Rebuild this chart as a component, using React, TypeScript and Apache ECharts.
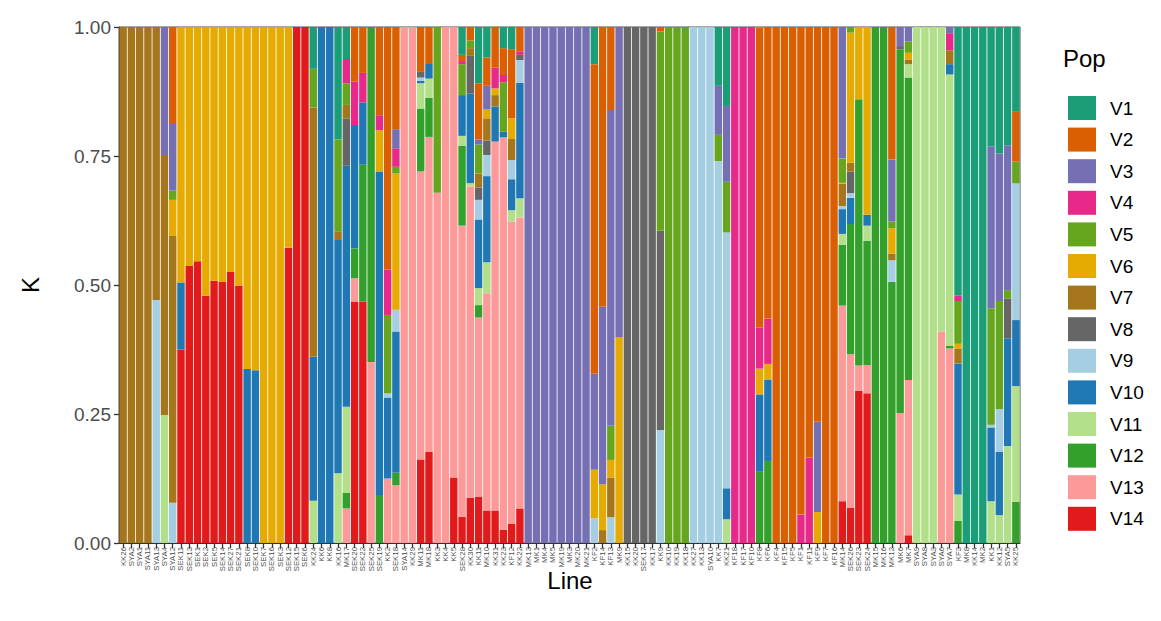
import React, { useEffect, useRef } from "react";
import * as echarts from "echarts";

const lines = ["KK26","SYA2","SYA1","SYA11","SYA13","SYA4","SYA12","SEK11","SEK13","SEK1",
"SEK2","SEK5","SEK14","SEK27","SEK21","SEK8","SEK10","SEK7","SEK16","SEK3",
"SEK12","SEK15","SEK6","KK24","KK6","KK8","KK16","MK17","SEK20","SEK22",
"SEK25","SEK19","KK2","SEK18","SYA14","KK29","MK11","MK18","KK3","KK4",
"KK5","SEK28","KK30","KK11","MK10","KK31","KK23","KF12","KK22","MK13",
"MK1","MK4","MK5","MK19","MK3","MK20","MK21","KF2","KF14","KF13",
"MK9","KK15","KK20","SEK17","KK17","KK9","KK10","KK19","KK18","KK27",
"KK13","SYA10","KK7","KK21","KF18","KF17","KF10","KF8","KF6","KF4",
"KF15","KF5","KF1","KF11","KF9","KF7","KF16","MK14","SEK26","SEK23",
"SEK24","MK15","MK16","MK12","MK6","MK7","SYA9","SYA8","SYA3","SYA6",
"SYA7","KF3","MK8","KK14","MK2","KK1","KK12","SYA5","KK25"];

const pops = ["V1","V2","V3","V4","V5","V6","V7","V8","V9","V10","V11","V12","V13","V14"];
const popColors = ["#1B9E77","#D95F02","#7570B3","#E7298A","#66A61E","#E6AB02","#A6761D","#666666","#A6CEE3","#1F78B4","#B2DF8A","#33A02C","#FB9A99","#E31A1C"];
const yTicks = [0, 0.25, 0.5, 0.75, 1];

// [bar number (1-based), proportion]
const V1: [number, number][] = [[24,.081],[27,.218],[28,.062],[42,.054],[44,.109],[45,.059],[47,.041],[48,.043],[58,.072],[73,.114],[74,.153],[102,.521],[103,1],[104,1],[105,1],[106,.231],[107,.245],[108,.229],[109,.163]];
const V2: [number, number][] = [[7,.188],[29,.106],[30,.089],[32,.171],[33,.47],[34,.198],[37,.087],[38,.07],[42,.012],[43,.026],[44,.109],[45,.055],[46,.079],[47,.052],[48,.134],[49,.047],[58,.6],[59,.542],[60,.161],[66,.008],[78,.581],[79,.565],[80,1],[81,1],[82,1],[83,.945],[84,.835],[85,.765],[86,1],[87,1],[94,.257],[109,.098]];
const V3: [number, number][] = [[6,.248],[7,.129],[34,.037],[44,.01],[45,.046],[50,1],[51,1],[52,1],[53,1],[54,1],[55,1],[56,1],[57,1],[58,.186],[59,.344],[60,.612],[61,.601],[73,.095],[74,.147],[85,.175],[88,.255],[94,.12],[95,.037],[96,.028],[101,.012],[106,.314],[107,.286],[108,.281]];
const V4: [number, number][] = [[28,.047],[29,.084],[30,.057],[32,.029],[33,.088],[34,.036],[42,.006],[46,.04],[47,.014],[49,.007],[75,1],[76,1],[77,1],[78,.08],[79,.088],[83,.055],[84,.165],[101,.033],[102,.01]];
const V5: [number, number][] = [[7,.018],[24,.075],[27,.179],[28,.042],[33,.152],[34,.013],[39,.321],[42,.06],[43,.015],[44,.056],[47,.096],[60,.066],[66,.387],[67,1],[68,1],[69,1],[73,.051],[74,.098],[88,.047],[89,.011],[94,.013],[96,.022],[102,.083],[106,.226],[107,.21],[108,.016],[109,.042]];
const V6: [number, number][] = [[7,.07],[8,.495],[9,.463],[10,.454],[11,.521],[12,.492],[13,.494],[14,.475],[15,.501],[16,.663],[17,.665],[18,1],[19,1],[20,1],[21,.428],[32,.08],[34,.264],[45,.017],[46,.013],[48,.04],[58,.094],[59,.089],[60,.034],[61,.399],[78,.05],[79,.03],[85,.06],[88,.002],[89,.252],[90,.14],[91,.364],[94,.049],[96,.013],[102,.009]];
const V7: [number, number][] = [[1,1],[2,1],[3,1],[4,1],[5,.529],[6,.504],[7,.517],[24,.483],[27,.016],[28,.026],[43,.015],[44,.027],[45,.043],[46,.022],[48,.041],[59,.025],[60,.077],[88,.043],[89,.017],[94,.013],[96,.009],[101,.027],[102,.029]];
const V8: [number, number][] = [[28,.092],[37,.011],[43,.073],[44,.024],[45,.028],[49,.01],[62,1],[63,1],[64,1],[65,1],[66,.386],[89,.042],[95,.006],[108,.077]];
const V9: [number, number][] = [[5,.471],[7,.078],[33,.008],[34,.042],[37,.006],[44,.038],[45,.041],[48,.037],[49,.044],[58,.048],[60,.05],[66,.219],[70,1],[71,1],[72,1],[73,.74],[74,.496],[88,.006],[89,.009],[94,.042],[106,.005],[107,.082],[109,.265]];
const V10: [number, number][] = [[8,.13],[16,.337],[17,.335],[24,.279],[25,1],[26,1],[27,.452],[28,.467],[29,.239],[30,.121],[32,.627],[33,.157],[34,.274],[37,.005],[38,.03],[42,.079],[43,.174],[44,.133],[45,.167],[46,.068],[47,.011],[48,.06],[49,.224],[74,.06],[78,.15],[79,.158],[88,.048],[89,.051],[91,.021],[101,.02],[102,.254],[106,.143],[107,.123],[108,.209],[109,.128]];
const V11: [number, number][] = [[6,.248],[24,.082],[27,.135],[28,.167],[37,.049],[38,.037],[42,.019],[43,.006],[44,.033],[45,.06],[48,.022],[49,.037],[74,.046],[88,.021],[91,.029],[96,.026],[97,1],[98,1],[99,1],[100,.59],[101,.526],[102,.051],[106,.081],[107,.054],[108,.188],[109,.224]];
const V12: [number, number][] = [[28,.03],[29,.058],[30,.265],[31,.649],[32,.093],[34,.024],[37,.122],[38,.076],[42,.155],[44,.024],[78,.138],[79,.159],[88,.118],[89,.252],[90,.516],[91,.241],[92,1],[93,1],[94,.506],[95,.705],[96,.586],[101,.005],[102,.043],[109,.08]];
const V13: [number, number][] = [[28,.067],[29,.045],[31,.351],[33,.125],[34,.112],[35,1],[36,1],[37,.558],[38,.61],[39,.679],[40,1],[41,.873],[42,.564],[43,.603],[44,.347],[45,.421],[46,.715],[47,.76],[48,.586],[49,.564],[88,.379],[89,.298],[90,.049],[91,.055],[95,.252],[96,.301],[100,.41],[101,.377]];
const V14: [number, number][] = [[8,.375],[9,.537],[10,.546],[11,.479],[12,.508],[13,.506],[14,.525],[15,.499],[21,.572],[22,1],[23,1],[29,.468],[30,.468],[37,.162],[38,.177],[41,.127],[42,.051],[43,.088],[44,.09],[45,.063],[46,.063],[47,.026],[48,.037],[49,.067],[88,.081],[89,.068],[90,.295],[91,.29],[96,.015]];

const popValues = [V1, V2, V3, V4, V5, V6, V7, V8, V9, V10, V11, V12, V13, V14];

const FONT = "Liberation Sans, Arial, sans-serif";

export default function App() {
  const ref = useRef<HTMLDivElement>(null);
  useEffect(() => {
    if (!ref.current) return;
    const chart = echarts.init(ref.current, null, { renderer: "svg" });
    const dense = (pairs: [number, number][]) => {
      const a = new Array(lines.length).fill(0);
      pairs.forEach(([i, v]) => { a[i - 1] = v; });
      return a;
    };
    const series: any[] = [];
    for (let k = pops.length - 1; k >= 0; k--) {
      series.push({
        name: pops[k],
        type: "bar",
        stack: "K",
        data: dense(popValues[k]),
        itemStyle: { color: popColors[k] },
        barCategoryGap: "10%",
        emphasis: { disabled: true },
      });
    }
    chart.setOption({
      animation: false,
      backgroundColor: "#ffffff",
      textStyle: { fontFamily: FONT },
      grid: { left: 119, right: 141, top: 27, bottom: 78, show: true, borderColor: "#4d4d4d", borderWidth: 1, backgroundColor: "transparent" },
      xAxis: {
        type: "category",
        data: lines,
        axisLine: { show: true, lineStyle: { color: "#333333", width: 1 } },
        axisTick: { show: true, alignWithLabel: true, interval: 0, length: 5, lineStyle: { color: "#333333", width: 1.3 } },
        axisLabel: { interval: 0, rotate: 90, fontSize: 7.8, color: "#4D4D4D", margin: 4, fontFamily: FONT },
        splitLine: { show: false },
      },
      yAxis: {
        type: "value",
        min: 0,
        max: 1,
        interval: 0.25,
        axisLine: { show: true, lineStyle: { color: "#333333", width: 1 } },
        axisTick: { show: true, length: 5, lineStyle: { color: "#333333", width: 1.3 } },
        axisLabel: { fontSize: 19, color: "#4D4D4D", margin: 8, fontFamily: FONT, formatter: (v: number) => (yTicks.includes(v) ? v.toFixed(2) : "") },
        splitLine: { show: false },
      },
      legend: {
        data: pops,
        orient: "vertical",
        left: 1063,
        top: 91,
        itemWidth: 28,
        itemHeight: 24,
        itemGap: 7.6,
        icon: "rect",
        textStyle: { fontSize: 19, color: "#000000", fontFamily: FONT, padding: [0, 0, 0, 9] },
        selectedMode: false,
      },
      graphic: [
        { type: "text", left: 1063, top: 46, style: { text: "Pop", fontSize: 24, fill: "#000000", fontFamily: FONT } },
        { type: "text", x: 570, y: 580, style: { text: "Line", fontSize: 24, fill: "#000000", fontFamily: FONT, textAlign: "center", textVerticalAlign: "middle" } },
        { type: "text", x: 30, y: 285, rotation: Math.PI / 2, style: { text: "K", fontSize: 24, fill: "#000000", fontFamily: FONT, textAlign: "center", textVerticalAlign: "middle" } },
      ],
      series,
    });
    return () => chart.dispose();
  }, []);
  return <div ref={ref} style={{ position: "fixed", left: 0, top: 0, width: 1161, height: 621 }} />;
}
